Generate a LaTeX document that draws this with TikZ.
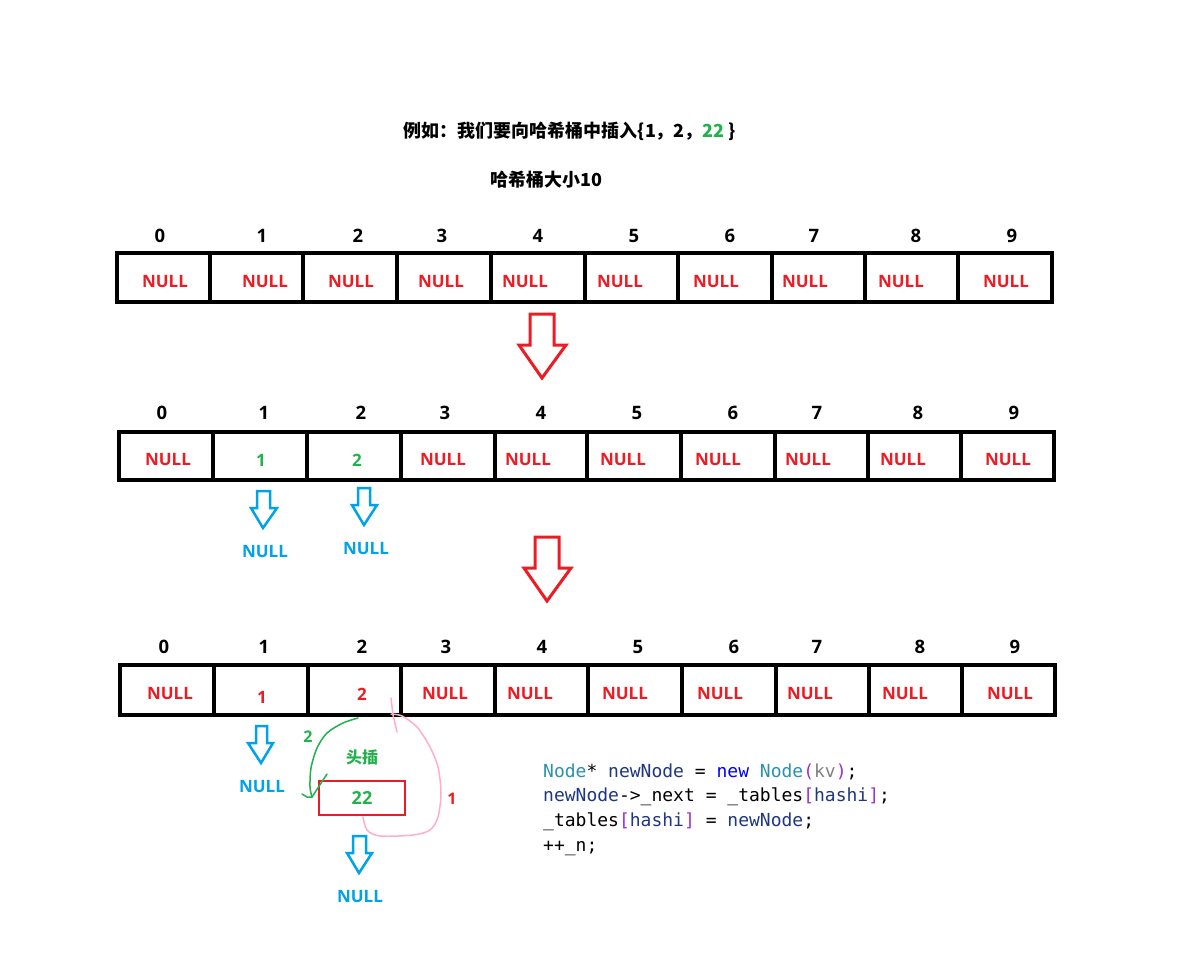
\documentclass[tikz,border=0pt]{standalone}
\usepackage{fontspec}
\setmainfont{Open Sans}
\newfontfamily\cjk{Noto Sans CJK SC}
\newfontfamily\codefont{DejaVu Sans Mono}
\definecolor{nullred}{HTML}{ED1C24}
\definecolor{okgreen}{HTML}{22B14C}
\definecolor{skyblue}{HTML}{00A2E8}
\definecolor{pinkc}{HTML}{FFAEC9}
\definecolor{typec}{HTML}{2B91AF}
\definecolor{varc}{HTML}{1F377F}
\definecolor{kwc}{HTML}{0000FF}
\definecolor{parc}{HTML}{9B30D0}
\definecolor{grayc}{HTML}{808080}
\begin{document}
\begin{tikzpicture}[x=1pt,y=-1pt,
  cell/.style={draw=black,line width=4pt},
  txt/.style={inner sep=0pt,font=\fontsize{17}{20}\selectfont\bfseries},
  idx/.style={inner sep=0pt,font=\fontsize{18.5}{20}\selectfont\bfseries,text=black},
  nul/.style={txt,text=nullred},
  grn/.style={txt,text=okgreen},
  bnul/.style={txt,text=skyblue},
  cjktxt/.style={inner sep=0pt,font=\cjk\fontsize{18}{20}\selectfont\bfseries},
  bigarrow/.style={draw=nullred,line width=3pt,line join=miter},
  smallarrow/.style={draw=skyblue,line width=2.5pt,line join=miter},
  code/.style={inner sep=0pt,anchor=base west,font=\codefont\fontsize{18}{20}\selectfont}]
\useasboundingbox[fill=white] (0,0) rectangle (1181,967);

% titles
\node[cjktxt] (title) at (570,131) {例如：我们要向哈希桶中插入\{1，2，\textcolor{okgreen}{22} \}};
\node[cjktxt] (size) at (546,180) {哈希桶大小10};

% ---------- row 1 ----------
\draw[cell] (117,253) rectangle (1052,302);
\foreach \x in {210,303,397,491,585,678,772,865,958} \draw[cell] (\x,253)--(\x,302);
\foreach \x [count=\i from 0] in {160,262,358,442,538,634,730,814,916,1012}
  \node[idx] (ra-i\i) at (\x,236) {\i};
\foreach \x [count=\i from 0] in {165,265,351,441,525,620,716,805,901,1006}
  \node[nul] (ra-v\i) at (\x,282) {NULL};

% big arrow 1
\draw[bigarrow] (530,314)--(554,314)--(554,345)--(566,345)--(542,378)--(519,345)--(530,345)--cycle;

% ---------- row 2 ----------
\draw[cell] (119,432) rectangle (1054,480);
\foreach \x in {213,307,401,495,587,681,775,868,961} \draw[cell] (\x,432)--(\x,480);
\foreach \x [count=\i from 0] in {162,264,361,445,541,637,733,817,918,1014}
  \node[idx] (rb-i\i) at (\x,413) {\i};
\node[nul] (rb-v0) at (168,460) {NULL};
\node[grn] (rb-v1) at (261,460) {1};
\node[grn] (rb-v2) at (357,460) {2};
\foreach \x [count=\i from 3] in {443,528,623,718,808,903,1008}
  \node[nul] (rb-v\i) at (\x,460) {NULL};

% small arrows row 2
\draw[smallarrow] (257,491)--(270,491)--(270,508)--(277,508)--(263,528)--(251,508)--(257,508)--cycle;
\draw[smallarrow] (358,488)--(370,488)--(370,505)--(377,505)--(364,525)--(352,505)--(358,505)--cycle;
\node[bnul] (rb-n1) at (265,552) {NULL};
\node[bnul] (rb-n2) at (366,549) {NULL};

% big arrow 2
\draw[bigarrow] (535,537)--(559,537)--(559,568)--(571,568)--(547,601)--(524,568)--(535,568)--cycle;

% ---------- row 3 ----------
\draw[cell] (120,665) rectangle (1055,715);
\foreach \x in {214,308,401,495,588,682,776,869,962} \draw[cell] (\x,665)--(\x,715);
\foreach \x [count=\i from 0] in {164,264,362,446,542,638,734,817,920,1015}
  \node[idx] (rc-i\i) at (\x,647) {\i};
\node[nul] (rc-v0) at (170,694) {NULL};
\node[nul] (rc-v1) at (262,697) {1};
\node[nul] (rc-v2) at (362,694) {2};
\foreach \x [count=\i from 3] in {445,530,625,720,810,905,1010}
  \node[nul] (rc-v\i) at (\x,694) {NULL};

% small arrows row 3
\draw[smallarrow] (256,726)--(267,726)--(267,743)--(273,743)--(261,763)--(248,743)--(256,743)--cycle;
\node[bnul] (rc-n1) at (262,787) {NULL};
\draw[smallarrow] (353,836)--(366,836)--(366,853)--(372,853)--(359,873)--(347,853)--(353,853)--cycle;
\node[bnul] (rc-n2) at (360,897) {NULL};

% new node 22
\node[draw=nullred,line width=2.5pt,minimum width=86pt,minimum height=34pt,inner sep=0pt,
      text=okgreen,font=\fontsize{18}{20}\selectfont\bfseries] (nn) at (362,798) {22};
\node[inner sep=0pt,text=okgreen,font=\cjk\fontsize{16}{18}\selectfont\bfseries] (head) at (362,757) {头插};
\node[inner sep=0pt,text=okgreen,font=\fontsize{16}{18}\selectfont\bfseries] (step2) at (308,737) {2};
\node[inner sep=0pt,text=nullred,font=\fontsize{16}{18}\selectfont\bfseries] (step1) at (452,799) {1};

% green hand-drawn arrow
\draw[okgreen,line width=1.5pt,line cap=round] plot[smooth] coordinates
  {(358,718) (343,723) (327,733) (317,748) (311,768) (310,787) (312,797)};
\draw[okgreen,line width=1.5pt,line cap=round] (302,794)--(307,797)--(312,797);
\draw[okgreen,line width=1.5pt,line cap=round] (312,797)--(327,774);

% pink hand-drawn curve
\draw[pinkc,line width=1.5pt,line cap=round] (391,698)--(393,715)--(397,732);
\draw[pinkc,line width=1.5pt,line cap=round] plot[smooth] coordinates
  {(391,714) (402,716) (417,727) (430,747) (438,767) (441,793) (438,817) (430,830) (413,835) (380,836) (367,830) (363,817)};

% code
\node[code] (c1) at (543,777.5) {\textcolor{typec}{Node}* \textcolor{varc}{newNode} = \textcolor{kwc}{new} \textcolor{typec}{Node}\textcolor{parc}{(}\textcolor{grayc}{kv}\textcolor{parc}{)};};
\node[code] (c2) at (543,801.5) {\textcolor{varc}{newNode}->\_next = \_tables\textcolor{parc}{[}\textcolor{varc}{hashi}\textcolor{parc}{]};};
\node[code] (c3) at (543,826) {\_tables\textcolor{parc}{[}\textcolor{varc}{hashi}\textcolor{parc}{]} = \textcolor{varc}{newNode};};
\node[code] (c4) at (543,851) {++\_n;};
\end{tikzpicture}
\end{document}
